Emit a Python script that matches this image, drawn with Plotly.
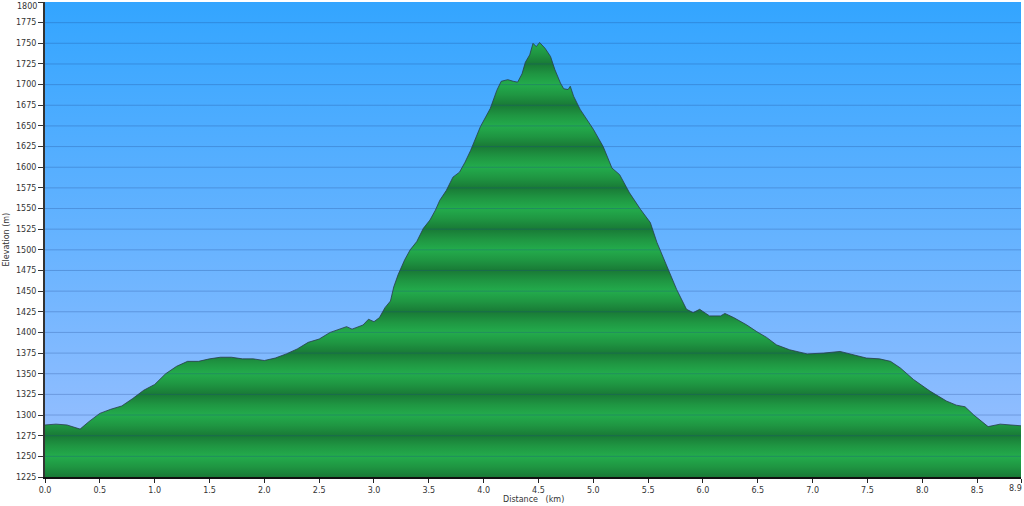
import plotly.graph_objects as go

# ---- data ----
dist_km = [0.00, 0.10, 0.20, 0.27, 0.32, 0.40, 0.50, 0.60, 0.70, 0.80, 0.90, 1.00,
           1.10, 1.20, 1.30, 1.40, 1.50, 1.60, 1.70, 1.80, 1.90, 2.00, 2.10, 2.20,
           2.30, 2.40, 2.50, 2.60, 2.70, 2.75, 2.80, 2.90, 2.95, 3.00, 3.05, 3.10,
           3.15, 3.18, 3.22, 3.28, 3.33, 3.39, 3.45, 3.51, 3.56, 3.60, 3.66, 3.72,
           3.78, 3.83, 3.88, 3.97, 4.06, 4.12, 4.16, 4.22, 4.27, 4.31, 4.35, 4.38,
           4.42, 4.45, 4.48, 4.51, 4.56, 4.61, 4.65, 4.70, 4.73, 4.77, 4.79, 4.82,
           4.88, 4.94, 5.00, 5.09, 5.17, 5.24, 5.33, 5.43, 5.52, 5.58, 5.67, 5.76,
           5.85, 5.91, 5.97, 6.06, 6.16, 6.20, 6.28, 6.40, 6.49, 6.58, 6.67, 6.79,
           6.95, 7.10, 7.25, 7.34, 7.49, 7.61, 7.71, 7.80, 7.92, 8.07, 8.22, 8.31,
           8.39, 8.47, 8.60, 8.71, 8.83, 8.90]
elev_m = [1288, 1289, 1288, 1285, 1283, 1292, 1302, 1307, 1311, 1320, 1330, 1337,
          1350, 1359, 1365, 1365, 1368, 1370, 1370, 1368, 1368, 1366, 1369, 1374,
          1380, 1388, 1392, 1400, 1405, 1407, 1404, 1409, 1416, 1413, 1418, 1430,
          1438, 1455, 1470, 1488, 1500, 1510, 1526, 1536, 1548, 1560, 1572, 1588,
          1594, 1606, 1620, 1649, 1671, 1693, 1704, 1706, 1704, 1703, 1713, 1727,
          1736, 1750, 1746, 1751, 1744, 1734, 1718, 1702, 1695, 1694, 1698, 1686,
          1670, 1658, 1646, 1625, 1599, 1591, 1569, 1549, 1533, 1509, 1481, 1452,
          1428, 1424, 1428, 1420, 1420, 1423, 1418, 1409, 1401, 1394, 1385, 1379,
          1374, 1375, 1377, 1374, 1369, 1368, 1365, 1357, 1343, 1329, 1317, 1312,
          1310, 1300, 1286, 1289, 1288, 1287]

x_range = [0.0, 8.9]
y_range = [1225, 1800]
y_ticks = list(range(1225, 1801, 25))
y_ticktext = [str(v) for v in y_ticks]
x_ticks = [0.0, 0.5, 1.0, 1.5, 2.0, 2.5, 3.0, 3.5, 4.0, 4.5, 5.0, 5.5, 6.0, 6.5,
           7.0, 7.5, 8.0, 8.5, 8.9]
x_ticktext = ["%.1f" % v for v in x_ticks]
x_title = "Distance\u00a0\u00a0\u00a0(km)"
y_title = "Elevation (m)"

# ---- styles ----
FONT = "DejaVu Sans"
LIGHT = "rgb(35,172,76)"
MID = "rgb(31,150,66)"
DARK = "rgb(25,122,54)"
TXT = "#333333"

# banded green colorscale: dark at odd 25s, light at multiples of 50
span = y_range[1] - y_range[0]
green_scale = []
for v in y_ticks:
    pos = (v - y_range[0]) / span
    col = LIGHT if v % 50 == 0 else DARK
    green_scale.append([pos, col])
    if v != y_ticks[-1]:
        green_scale.append([pos + 12.5 / span, MID])

fig = go.Figure()

# plot-area background gradient
fig.add_trace(go.Scatter(
    x=[x_range[0], x_range[1], x_range[1], x_range[0]],
    y=[y_range[0], y_range[0], y_range[1], y_range[1]],
    mode="none", fill="toself",
    fillgradient=dict(type="vertical", start=y_range[0], stop=y_range[1],
                      colorscale=[[0, "#9DC0FF"], [0.5, "#66B3FF"], [1, "#33A5FF"]]),
    hoverinfo="skip", showlegend=False,
))

# elevation profile
fig.add_trace(go.Scatter(
    x=dist_km, y=elev_m, mode="lines",
    line=dict(color="rgba(40,60,75,0.8)", width=1),
    fill="tozeroy",
    fillgradient=dict(type="vertical", start=y_range[0], stop=y_range[1],
                      colorscale=green_scale),
    hoverinfo="x+y", showlegend=False,
))

# gridlines above the fills
shapes = []
for v in y_ticks[1:-1]:
    shapes.append(dict(type="line", xref="paper", x0=0, x1=1, yref="y", y0=v, y1=v,
                       line=dict(color="rgba(30,70,140,0.28)", width=1), layer="above"))

annotations = [
    dict(text=x_title, xref="paper", x=0.5, yref="paper", y=-22 / 475,
         xanchor="center", yanchor="middle", showarrow=False,
         font=dict(size=8, color=TXT)),
    dict(text=y_title, xref="paper", x=-39 / 976, yref="paper", y=0.5,
         xanchor="center", yanchor="middle", textangle=-90, showarrow=False,
         font=dict(size=8, color=TXT)),
    # last x label kept inside the figure (right-aligned at its tick)
    dict(text=x_ticktext[-1], xref="x", x=x_ticks[-1], yref="paper", y=-5 / 475,
         xanchor="right", yanchor="top", showarrow=False, xshift=3,
         font=dict(size=8, color=TXT)),
    # top y label kept inside the figure
    dict(text=y_ticktext[-1], xref="paper", x=-6 / 976, yref="y", y=y_ticks[-1],
         xanchor="right", yanchor="top", showarrow=False, yshift=2,
         font=dict(size=8, color=TXT)),
]

shown_x_text = x_ticktext[:-1] + [""]
shown_y_text = y_ticktext[:-1] + [""]

fig.update_layout(
    width=1024, height=506,
    margin=dict(l=45, r=3, t=2, b=29, autoexpand=False),
    paper_bgcolor="white", plot_bgcolor="white",
    font=dict(family=FONT, size=8, color=TXT),
    shapes=shapes,
    annotations=annotations,
    showlegend=False,
    xaxis=dict(range=x_range, tickvals=x_ticks, ticktext=shown_x_text,
               showgrid=False, zeroline=False, ticks="outside", ticklen=4,
               tickcolor="#222", showline=True, linecolor="#111", linewidth=2,
               tickfont=dict(size=8, color=TXT), automargin=False),
    yaxis=dict(range=y_range, tickvals=y_ticks, ticktext=shown_y_text,
               showgrid=False, zeroline=False,
               ticks="outside", ticklen=5, tickcolor="#333", showline=True,
               linecolor="#333", linewidth=2,
               tickfont=dict(size=8, color=TXT), automargin=False),
)

fig.write_html("out.html",
               config={"displayModeBar": False},
               post_script="document.body.style.margin='0';document.body.style.overflow='hidden';")
